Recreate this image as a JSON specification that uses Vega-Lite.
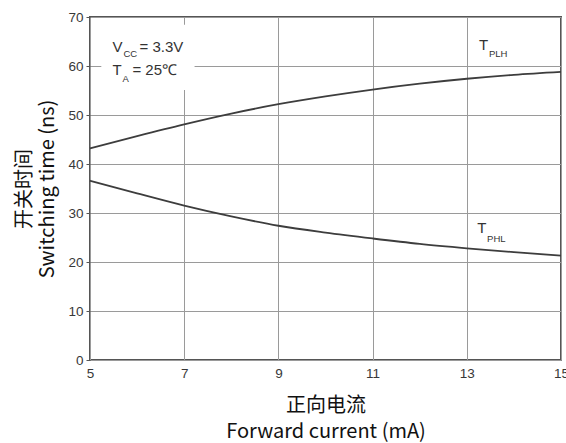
{
  "$schema": "https://vega.github.io/schema/vega-lite/v6.json",
  "width": 471,
  "height": 343,
  "autosize": {"type": "none"},
  "padding": {"left": 90, "top": 17, "right": 5, "bottom": 83},
  "background": "white",
  "config": {
    "view": {"stroke": "#555555", "strokeWidth": 2},
    "font": "Liberation Sans"
  },
  "datasets": {
    "curves": [
      {"current": 5, "time": 43.2, "series": "TPLH"},
      {"current": 6, "time": 45.7, "series": "TPLH"},
      {"current": 7, "time": 48.1, "series": "TPLH"},
      {"current": 8, "time": 50.3, "series": "TPLH"},
      {"current": 9, "time": 52.2, "series": "TPLH"},
      {"current": 10, "time": 53.8, "series": "TPLH"},
      {"current": 11, "time": 55.2, "series": "TPLH"},
      {"current": 12, "time": 56.4, "series": "TPLH"},
      {"current": 13, "time": 57.4, "series": "TPLH"},
      {"current": 14, "time": 58.2, "series": "TPLH"},
      {"current": 15, "time": 58.8, "series": "TPLH"},
      {"current": 5, "time": 36.6, "series": "TPHL"},
      {"current": 6, "time": 34.0, "series": "TPHL"},
      {"current": 7, "time": 31.5, "series": "TPHL"},
      {"current": 8, "time": 29.3, "series": "TPHL"},
      {"current": 9, "time": 27.4, "series": "TPHL"},
      {"current": 10, "time": 26.0, "series": "TPHL"},
      {"current": 11, "time": 24.8, "series": "TPHL"},
      {"current": 12, "time": 23.7, "series": "TPHL"},
      {"current": 13, "time": 22.8, "series": "TPHL"},
      {"current": 14, "time": 22.0, "series": "TPHL"},
      {"current": 15, "time": 21.3, "series": "TPHL"}
    ],
    "box": [{"x1": 5.24, "x2": 7.22, "y1": 55.1, "y2": 68.4}],
    "mainText": [
      {"current": 5.48, "time": 62.9, "label": "V"},
      {"current": 6.05, "time": 62.9, "label": "= 3.3V"},
      {"current": 5.48, "time": 58.2, "label": "T"},
      {"current": 5.9, "time": 58.2, "label": "= 25℃"},
      {"current": 13.26, "time": 63.3, "label": "T"},
      {"current": 13.22, "time": 25.9, "label": "T"}
    ],
    "subText": [
      {"current": 5.71, "time": 61.8, "label": "CC"},
      {"current": 5.69, "time": 56.7, "label": "A"},
      {"current": 13.47, "time": 61.8, "label": "PLH"},
      {"current": 13.43, "time": 24.1, "label": "PHL"}
    ]
  },
  "layer": [
    {
      "data": {"name": "curves"},
      "mark": {"type": "line", "interpolate": "monotone", "color": "#3d3d3d", "strokeWidth": 1.8},
      "encoding": {
        "x": {
          "field": "current", "type": "quantitative",
          "scale": {"domain": [5, 15], "nice": false, "zero": false},
          "axis": {
            "values": [5, 7, 9, 11, 13, 15],
            "grid": true, "gridColor": "#9a9a9a", "gridWidth": 1,
            "domain": false, "ticks": false,
            "labelFont": "Liberation Sans", "labelFontSize": 13.5, "labelColor": "#383838",
            "labelPadding": 6, "labelFlush": false,
            "title": ["正向电流", "Forward current (mA)"],
            "titleFont": "Noto Sans CJK SC", "titleFontSize": 20, "titleFontWeight": "normal",
            "titleColor": "#111111", "titlePadding": 16, "titleLineHeight": 26
          }
        },
        "y": {
          "field": "time", "type": "quantitative",
          "scale": {"domain": [0, 70], "nice": false},
          "axis": {
            "values": [0, 10, 20, 30, 40, 50, 60, 70],
            "grid": true, "gridColor": "#9a9a9a", "gridWidth": 1,
            "domain": false, "ticks": true, "tickSize": 4, "tickColor": "#555555",
            "labelFont": "Liberation Sans", "labelFontSize": 13.5, "labelColor": "#383838",
            "labelPadding": 3,
            "title": ["开关时间", "Switching time (ns)"],
            "titleFont": "Noto Sans CJK SC", "titleFontSize": 20, "titleFontWeight": "normal",
            "titleColor": "#111111", "titlePadding": 10, "titleLineHeight": 23
          }
        },
        "detail": {"field": "series", "type": "nominal"}
      }
    },
    {
      "data": {"name": "box"},
      "mark": {"type": "rect", "color": "white"},
      "encoding": {
        "x": {"field": "x1", "type": "quantitative"},
        "x2": {"field": "x2"},
        "y": {"field": "y1", "type": "quantitative"},
        "y2": {"field": "y2"}
      }
    },
    {
      "data": {"name": "mainText"},
      "mark": {"type": "text", "align": "left", "baseline": "alphabetic", "fontSize": 15, "color": "#333333", "font": "Liberation Sans"},
      "encoding": {
        "x": {"field": "current", "type": "quantitative"},
        "y": {"field": "time", "type": "quantitative"},
        "text": {"field": "label"}
      }
    },
    {
      "data": {"name": "subText"},
      "mark": {"type": "text", "align": "left", "baseline": "alphabetic", "fontSize": 9.5, "color": "#333333", "font": "Liberation Sans"},
      "encoding": {
        "x": {"field": "current", "type": "quantitative"},
        "y": {"field": "time", "type": "quantitative"},
        "text": {"field": "label"}
      }
    }
  ]
}
